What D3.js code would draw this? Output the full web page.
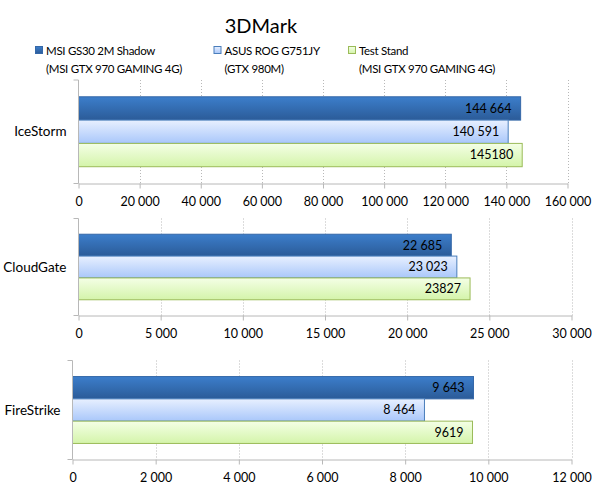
<!DOCTYPE html>
<html>
<head>
<meta charset="utf-8">
<script src="https://cdn.jsdelivr.net/npm/d3@7"></script>
<style>
  body { margin: 0; background: #fff; }
  svg { display: block; font-family: Lato, "Open Sans", sans-serif; }
</style>
</head>
<body>
<script>
// data
const seriesNames = ["MSI GS30 2M Shadow", "ASUS ROG G751JY", "Test Stand"];
const seriesSubs = ["(MSI GTX 970 GAMING 4G)", "(GTX 980M)", "(MSI GTX 970 GAMING 4G)"];
const tests = ["IceStorm", "CloudGate", "FireStrike"];
const iceStorm = [144664, 140591, 145180];
const cloudGate = [22685, 23023, 23827];
const fireStrike = [9643, 8464, 9619];
const iceStormLabels = ["144 664", "140 591", "145180"];
const cloudGateLabels = ["22 685", "23 023", "23827"];
const fireStrikeLabels = ["9 643", "8 464", "9619"];
const axisMax = [160000, 30000, 12000];
const tickStep = [20000, 5000, 2000];

const values = [iceStorm, cloudGate, fireStrike];
const valueLabels = [iceStormLabels, cloudGateLabels, fireStrikeLabels];

// panel boxes
const panels = [
  {left: 78.5, right: 567.5, top: 80, bottom: 183.5},
  {left: 78.5, right: 571.5, top: 218.5, bottom: 315.5},
  {left: 72.5, right: 571.5, top: 360.5, bottom: 459.5}
];

const width = 600, height = 494;
const svg = d3.select('body').append('svg')
    .attr('width', width)
    .attr('height', height);

const defs = svg.append('defs');
const grads = [
  ['#3c7ecb', '#2b5b98'],
  ['#e8f0ff', '#a9c7fa'],
  ['#f4ffe6', '#d4f4aa']
];
const strokes = ['#3568a8', '#4a7ebb', '#9bbb59'];
grads.forEach((g, i) => {
  const lg = defs.append('linearGradient')
      .attr('id', 'g' + i)
      .attr('x1', 0).attr('y1', 0).attr('x2', 0).attr('y2', 1);
  lg.append('stop').attr('offset', '0%').attr('stop-color', g[0]);
  lg.append('stop').attr('offset', '100%').attr('stop-color', g[1]);
});

// title
svg.append('text')
    .attr('x', 261)
    .attr('y', 33)
    .attr('text-anchor', 'middle')
    .attr('font-size', 20)
    .attr('fill', '#000')
    .text('3DMark');

// legend
const legendX = [35, 213.5, 348];
seriesNames.forEach((name, i) => {
  const g = svg.append('g').attr('transform', `translate(${legendX[i]},0)`);
  g.append('rect')
      .attr('x', 0.5).attr('y', 46.5)
      .attr('width', 7).attr('height', 7)
      .attr('fill', `url(#g${i})`)
      .attr('stroke', strokes[i]);
  g.append('text')
      .attr('x', 11).attr('y', 55)
      .attr('font-size', 11.5)
      .attr('letter-spacing', -0.3)
      .text(name);
  g.append('text')
      .attr('x', 11).attr('y', 73)
      .attr('font-size', 11.5)
      .attr('letter-spacing', -0.3)
      .text(seriesSubs[i]);
});

const fmt = d3.formatLocale({decimal: ',', thousands: ' ', grouping: [3], currency: ['', '']}).format(',');

panels.forEach((p, k) => {
  const x = d3.scaleLinear()
      .domain([0, axisMax[k]])
      .range([p.left, p.right]);
  const y = d3.scaleBand()
      .domain(seriesNames)
      .range([p.top, p.bottom])
      .paddingInner(0)
      .paddingOuter(0.72);
  const ticks = d3.range(0, axisMax[k] + 1, tickStep[k]);

  const g = svg.append('g');

  // dotted grid
  g.selectAll('.grid')
    .data(ticks.slice(1))
    .join('line')
      .attr('x1', d => Math.round(x(d)) + 0.5)
      .attr('x2', d => Math.round(x(d)) + 0.5)
      .attr('y1', p.top)
      .attr('y2', p.bottom)
      .attr('stroke', '#b8b8b8')
      .attr('stroke-dasharray', '1,2');

  // bars
  g.selectAll('.bar')
    .data(values[k])
    .join('rect')
      .attr('x', p.left)
      .attr('y', (d, i) => y(seriesNames[i]))
      .attr('width', d => x(d) - p.left)
      .attr('height', y.bandwidth())
      .attr('fill', (d, i) => `url(#g${i})`)
      .attr('stroke', (d, i) => strokes[i]);

  g.selectAll('.val')
    .data(values[k])
    .join('text')
      .attr('x', d => x(d) - 9)
      .attr('y', (d, i) => y(seriesNames[i]) + y.bandwidth() / 2)
      .attr('dy', '0.35em')
      .attr('text-anchor', 'end')
      .attr('font-size', 12.5)
      .attr('fill', '#000')
      .text((d, i) => valueLabels[k][i]);

  // x axis
  const xAxis = d3.axisBottom(x)
      .tickValues(ticks)
      .tickFormat(fmt)
      .tickSize(5)
      .tickSizeOuter(0)
      .tickPadding(9);
  const ax = svg.append('g')
      .attr('transform', `translate(0,${p.bottom})`)
      .call(xAxis);
  ax.select('.domain').attr('stroke', '#b8b8b8');
  ax.selectAll('.tick line').attr('stroke', '#b8b8b8');
  ax.selectAll('.tick text')
      .attr('font-family', 'Lato, sans-serif')
      .attr('font-size', 12.5)
      .attr('fill', '#000');

  // left axis with end ticks
  svg.append('path')
      .attr('d', `M${p.left - 5},${p.top}H${p.left}V${p.bottom}H${p.left - 5}`)
      .attr('fill', 'none')
      .attr('stroke', '#b8b8b8');

  svg.append('text')
      .attr('x', p.left - 12)
      .attr('y', (p.top + p.bottom) / 2)
      .attr('dy', '0.35em')
      .attr('text-anchor', 'end')
      .attr('font-size', 13.5)
      .attr('fill', '#000')
      .text(tests[k]);
});
</script>
</body>
</html>
